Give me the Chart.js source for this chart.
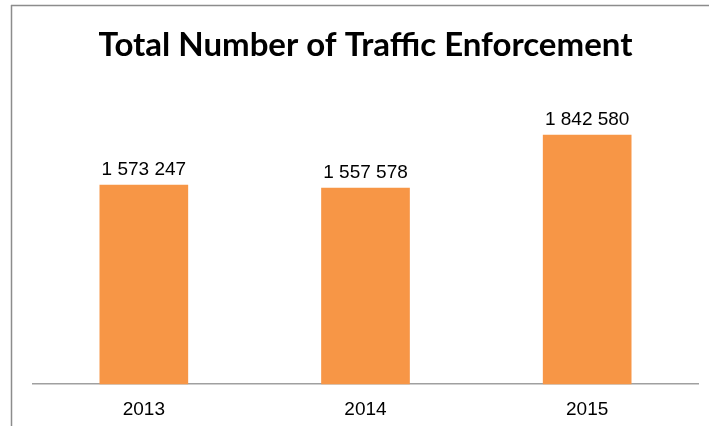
<!DOCTYPE html>
<html>
<head>
<meta charset="utf-8">
<script src="https://cdn.jsdelivr.net/npm/chart.js@4.4.1/dist/chart.umd.min.js"></script>
<style>
  html, body { margin: 0; padding: 0; background: #ffffff; }
  #wrap { width: 709px; height: 426px; position: relative; }
</style>
</head>
<body>
<div id="wrap"><canvas id="c" width="709" height="426"></canvas></div>
<script>
const categories = ["2013", "2014", "2015"];
const enforcementValues = [1573247, 1557578, 1842580];
const chartTitle = "Total Number of Traffic Enforcement";

function fmt(v) {
  return String(v).replace(/\B(?=(\d{3})+(?!\d))/g, " ");
}

const frameLines = {
  id: 'frameLines',
  beforeDraw(chart) {
    const ctx = chart.ctx;
    ctx.save();
    ctx.fillStyle = '#ffffff';
    ctx.fillRect(0, 0, chart.width, chart.height);
    ctx.strokeStyle = '#8c8c8c';
    ctx.lineWidth = 1.5;
    ctx.beginPath();
    ctx.moveTo(11, 5.5);
    ctx.lineTo(chart.width, 5.5);
    ctx.moveTo(11.5, 5);
    ctx.lineTo(11.5, chart.height);
    ctx.stroke();
    ctx.restore();
  }
};

const valueLabels = {
  id: 'valueLabels',
  afterDatasetsDraw(chart) {
    const ctx = chart.ctx;
    const meta = chart.getDatasetMeta(0);
    ctx.save();
    ctx.font = '19px "Liberation Sans", Arial, sans-serif';
    ctx.fillStyle = '#000000';
    ctx.textAlign = 'center';
    ctx.textBaseline = 'alphabetic';
    meta.data.forEach((bar, i) => {
      ctx.fillText(fmt(chart.data.datasets[0].data[i]), bar.x, bar.y - 10);
    });
    ctx.restore();
  }
};

new Chart(document.getElementById('c'), {
  type: 'bar',
  data: {
    labels: categories,
    datasets: [{
      data: enforcementValues,
      backgroundColor: '#F79646',
      borderWidth: 0,
      categoryPercentage: 1.0,
      barPercentage: 0.4
    }]
  },
  options: {
    responsive: false,
    animation: false,
    events: [],
    layout: { padding: { left: 33, right: 11, top: 0, bottom: -1 } },
    plugins: {
      legend: { display: false },
      tooltip: { enabled: false },
      title: {
        display: true,
        text: chartTitle,
        color: '#000000',
        font: { family: 'Lato, "Liberation Sans", sans-serif', size: 33, weight: 'bold' },
        padding: { top: 26, bottom: 40 }
      }
    },
    scales: {
      y: {
        display: false,
        min: 500000,
        max: 2000000
      },
      x: {
        grid: { display: false },
        border: { display: true, color: '#a0a0a0', width: 1.5 },
        ticks: {
          color: '#000000',
          font: { family: '"Liberation Sans", Arial, sans-serif', size: 19 },
          padding: 6
        }
      }
    }
  },
  plugins: [frameLines, valueLabels]
});
</script>
</body>
</html>
